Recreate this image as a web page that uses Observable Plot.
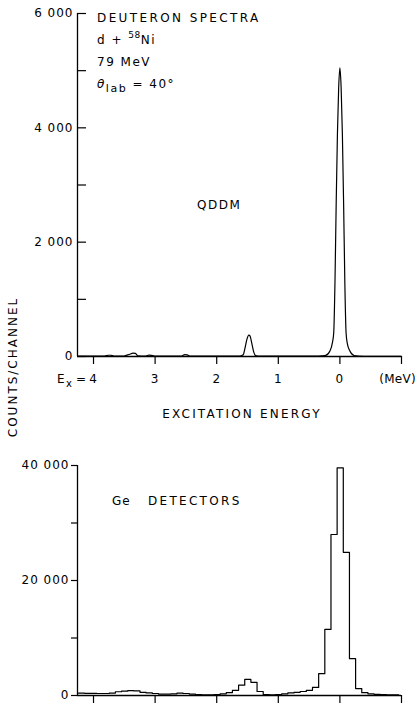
<!DOCTYPE html>
<html><head><meta charset="utf-8">
<script src="https://cdn.jsdelivr.net/npm/d3@7"></script>
<script src="https://cdn.jsdelivr.net/npm/@observablehq/plot@0.6"></script>
<style>
body{margin:0;background:#fff;}
#chart{position:relative;width:418px;height:704px;background:#fff;}
#chart svg{display:block;}
</style></head><body><div id="chart"></div>
<script>
// ---- data ----
const energyTicks = [4, 3, 2, 1, 0, -1];
const energyTickLabels = ["4", "3", "2", "1", "0", ""];
const energyUnit = "(MeV)";
const energyDomain = [4.26, -1.0];

const qddmMajorTicks = [0, 2000, 4000, 6000];
const qddmMinorTicks = [1000, 3000, 5000];
const geMajorTicks = [0, 20000, 40000];
const geMinorTicks = [10000, 30000];

// QDDM spectrum (excitation energy MeV, counts/channel)
const qddmEnergy = [4.26, 3.82, 3.76, 3.72, 3.67, 3.52, 3.46, 3.41, 3.36, 3.32, 3.28, 3.15, 3.10, 3.06, 3.01, 2.57, 2.52, 2.48, 2.43,
  1.62, 1.57, 1.54, 1.51, 1.48, 1.46, 1.43, 1.40, 1.37, 1.33,
  0.40, 0.30, 0.23, 0.16, 0.12, 0.10, 0.08, 0.06, 0.04, 0.02, 0.00, -0.02, -0.04, -0.06, -0.08, -0.10, -0.12, -0.16, -0.23, -0.30, -0.50, -1.00];
const qddmCounts = [8, 8, 22, 22, 8, 8, 25, 40, 60, 55, 12, 8, 25, 20, 8, 8, 32, 30, 8,
  8, 30, 150, 300, 375, 360, 230, 80, 15, 6,
  8, 12, 20, 100, 250, 420, 1300, 2700, 3900, 4700, 5050, 4700, 3900, 2700, 1300, 420, 230, 100, 18, 8, 4, 2];

// Ge detector histogram: bin edges (MeV, high to low) and counts per bin
const geBinEdges = [4.245, 4.145, 4.045, 3.945, 3.845, 3.745, 3.645, 3.545, 3.445, 3.345, 3.245, 3.145, 3.045, 2.945, 2.845, 2.745, 2.645, 2.545, 2.445, 2.345, 2.245, 2.145, 2.045, 1.945, 1.845, 1.745, 1.645, 1.545, 1.445, 1.345, 1.245, 1.145, 1.045, 0.945, 0.845, 0.745, 0.645, 0.545, 0.445, 0.345, 0.245, 0.145, 0.045, -0.055, -0.155, -0.255, -0.355, -0.455, -0.555, -0.655, -0.755, -0.855, -0.955];
const geCounts = [400, 380, 380, 350, 350, 420, 650, 750, 850, 800, 550, 450, 350, 250, 250, 300, 400, 350, 250, 150, 100, 100, 150, 300, 500, 900, 1800, 2800, 2300, 700, 150, 100, 150, 300, 450, 550, 700, 900, 1400, 3800, 11500, 28000, 39600, 24900, 6400, 1200, 500, 300, 200, 150, 100, 100];

// ---- chart ----
const fmtCount = d => d === 0 ? "0" : `${d / 1000} 000`;
const baseStyle = {fontFamily: "'DejaVu Sans', sans-serif", fontSize: "12px", color: "#000", background: "#fff", overflow: "visible", letterSpacing: "1px"};

const qddm = qddmEnergy.map((e, i) => ({e, c: qddmCounts[i]}));
const geSteps = geBinEdges.map((e, i) => ({e, c: geCounts[Math.min(i, geCounts.length - 1)]}));

const W = 418, ML = 77, MR = 17;
const frameW = W - ML - MR;

const topPlot = Plot.plot({
  width: W, height: 432,
  marginLeft: ML, marginRight: MR, marginTop: 13, marginBottom: 76,
  x: {domain: energyDomain},
  y: {domain: [0, d3.max(qddmMajorTicks)]},
  style: baseStyle,
  marks: [
    Plot.axisY({ticks: qddmMajorTicks, tickSize: 0, tickPadding: 4, tickFormat: fmtCount, label: null}),
    // inward ticks on the count axis
    Plot.tickY([...qddmMajorTicks, ...qddmMinorTicks], {y: d => d, insetRight: frameW - 9, strokeWidth: 1.2}),
    Plot.axisX({ticks: energyTicks, tickSize: 8, tickPadding: 10, strokeWidth: 1.2,
      tickFormat: d => energyTickLabels[energyTicks.indexOf(d)], label: null}),
    Plot.ruleX([energyDomain[0]], {y1: 0, y2: d3.max(qddmMajorTicks), strokeWidth: 1.3}),
    Plot.ruleY([0], {strokeWidth: 1.3}),
    Plot.line(qddm, {x: "e", y: "c", curve: "monotone-x", strokeWidth: 1.2})
  ]
});

const bottomPlot = Plot.plot({
  width: W, height: 272,
  marginLeft: ML, marginRight: MR, marginTop: 33, marginBottom: 9,
  x: {domain: energyDomain},
  y: {domain: [0, d3.max(geMajorTicks)]},
  style: baseStyle,
  marks: [
    Plot.axisY({ticks: [...geMajorTicks, ...geMinorTicks], tickSize: 6, tickPadding: 2, strokeWidth: 1.2,
      tickFormat: d => geMajorTicks.includes(d) ? fmtCount(d) : "", label: null}),
    Plot.axisX({ticks: energyTicks, tickSize: 8, fill: "none", label: null, strokeWidth: 1.2}),
    Plot.ruleX([energyDomain[0]], {y1: 0, y2: d3.max(geMajorTicks), strokeWidth: 1.3}),
    Plot.ruleY([0], {strokeWidth: 1.3}),
    Plot.line(geSteps, {x: "e", y: "c", curve: "step-after", strokeWidth: 1.2})
  ]
});

// ---- annotations ----
const topNotes = `
<g fill="#000" text-anchor="start" font-family="'DejaVu Sans', sans-serif" font-size="12" letter-spacing="1.5">
  <text x="97" y="22" letter-spacing="2.4">DEUTERON SPECTRA</text>
  <text x="97" y="44">d + <tspan dy="-6" font-size="9" letter-spacing="0.5">58</tspan><tspan dy="6">Ni</tspan></text>
  <text x="97" y="66">79 MeV</text>
  <text x="97" y="88"><tspan font-style="italic">θ</tspan><tspan dy="4" font-size="11">lab</tspan><tspan dy="-4"> = 40°</tspan></text>
  <text x="197" y="209" letter-spacing="1.5">QDDM</text>
  <text x="242" y="418" text-anchor="middle" letter-spacing="2.2">EXCITATION ENERGY</text>
  <text transform="translate(17,367) rotate(-90)" text-anchor="middle" letter-spacing="2">COUNTS/CHANNEL</text>
  <text x="57" y="383">E<tspan dy="4" font-size="10">x</tspan><tspan x="76" dy="-4">=</tspan></text>
  <text x="416" y="383" text-anchor="end" letter-spacing="0.3">${energyUnit}</text>
</g>`;
topPlot.insertAdjacentHTML("beforeend", topNotes);

const bottomNotes = `
<g fill="#000" text-anchor="start" font-family="'DejaVu Sans', sans-serif" font-size="12" letter-spacing="2.3">
  <text x="112" y="73" letter-spacing="1">Ge</text>
  <text x="148" y="73">DETECTORS</text>
</g>`;
bottomPlot.insertAdjacentHTML("beforeend", bottomNotes);

const chart = document.getElementById("chart");
chart.appendChild(topPlot);
chart.appendChild(bottomPlot);
</script>
</body></html>
